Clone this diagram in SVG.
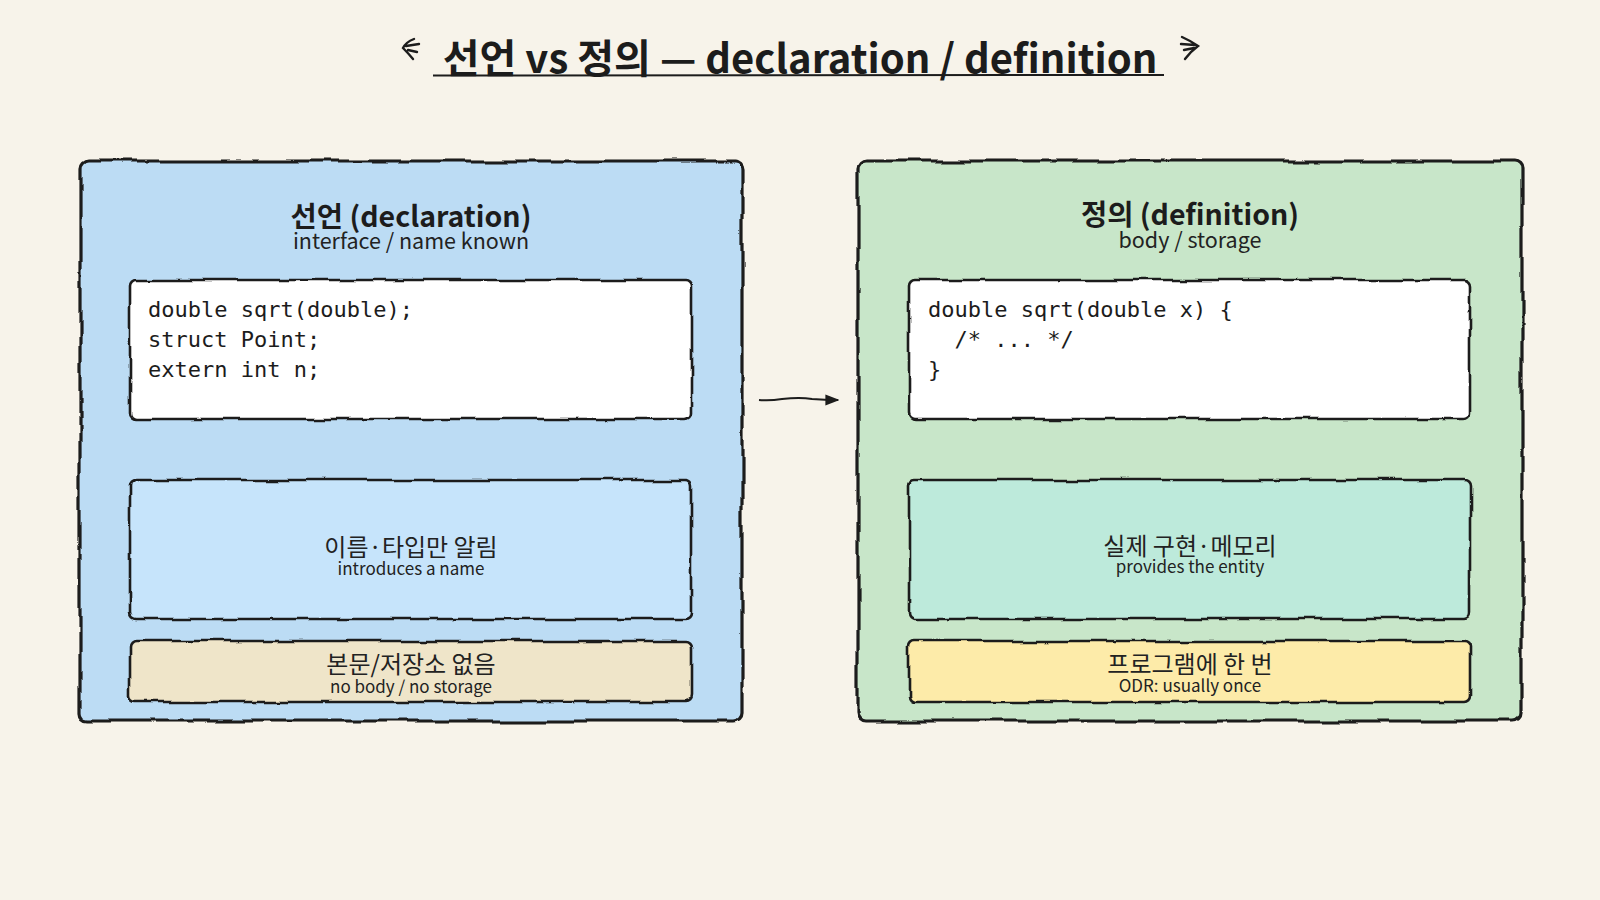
<svg xmlns="http://www.w3.org/2000/svg" width="1600" height="900" viewBox="0 0 1600 900">
<defs>
<style>
.bg{fill:#f7f3ea}
.outer{stroke:#1c1c1c;stroke-width:3.2;filter:url(#rough)}
.inner{stroke:#1c1c1c;stroke-width:2.6;filter:url(#rough2)}
.ttl{font-family:"Noto Sans CJK KR","Noto Sans",sans-serif;font-weight:700;fill:#1c1c1c}
.hd{font-family:"Noto Sans CJK KR","Noto Sans",sans-serif;font-weight:700;font-size:28.5px;fill:#1c1c1c;text-anchor:middle}
.sub{font-family:"Noto Sans CJK KR","Noto Sans",sans-serif;font-size:21.5px;fill:#222;text-anchor:middle}
.ko{font-family:"Noto Sans CJK KR","Noto Sans",sans-serif;font-size:24px;fill:#222;text-anchor:middle}
.en{font-family:"Noto Sans CJK KR","Noto Sans",sans-serif;font-size:17px;fill:#222;text-anchor:middle}
.code{font-family:"DejaVu Sans Mono","Liberation Mono",monospace;font-size:22px;fill:#1c1c1c;white-space:pre}
.conn{fill:none;stroke:#1c1c1c;stroke-width:2}
.deco{fill:none;stroke:#1c1c1c;stroke-width:2.4;stroke-linecap:round}
</style>
<filter id="rough" x="-3%" y="-3%" width="106%" height="106%">
<feTurbulence type="fractalNoise" baseFrequency="0.02" numOctaves="3" seed="4" result="n"/>
<feDisplacementMap in="SourceGraphic" in2="n" scale="7" xChannelSelector="R" yChannelSelector="G"/>
</filter>
<filter id="rough2" x="-3%" y="-6%" width="106%" height="112%">
<feTurbulence type="fractalNoise" baseFrequency="0.024" numOctaves="3" seed="9" result="n"/>
<feDisplacementMap in="SourceGraphic" in2="n" scale="6" xChannelSelector="R" yChannelSelector="G"/>
</filter>
<marker id="ah" viewBox="0 0 10 10" refX="9" refY="5" markerWidth="7" markerHeight="7" orient="auto" markerUnits="strokeWidth">
<path d="M0,1 L10,5 L0,9 Z" fill="#1c1c1c"/>
</marker>
</defs>
<rect class="bg" x="0" y="0" width="1600" height="900"/>

<g id="title">
<text class="ttl" x="800" y="73" font-size="40" text-anchor="middle">선언 vs 정의 — declaration / definition</text>
<path d="M433,75.5 L1164,75" fill="none" stroke="#1c1c1c" stroke-width="2"/>
<path class="deco" d="M414,39 Q406,42 403,48 Q408,53 413,59 M406,46 L419,44 M408,50 L417,52"/>
<path class="deco" d="M1182,37 Q1191,41 1198,46 Q1190,52 1185,59 M1181,44 L1195,45 M1184,50 L1194,48"/>
</g>

<g id="declaration">
<rect class="outer" x="80" y="161" width="662" height="560" rx="8" fill="#bcdcf4"/>
<text class="hd" x="411" y="227">선언 (declaration)</text>
<text class="sub" x="411" y="249">interface / name known</text>
</g>

<g id="decl-code">
<rect class="inner" x="130" y="280" width="562" height="139" rx="6" fill="#ffffff"/>
<text class="code" x="148" y="317">double sqrt(double);</text>
<text class="code" x="148" y="347">struct Point;</text>
<text class="code" x="148" y="377">extern int n;</text>
</g>

<g id="decl-name">
<rect class="inner" x="130" y="480" width="562" height="139" rx="6" fill="#c6e4fb"/>
<text class="ko" x="411" y="556">이름·타입만 알림</text>
<text class="en" x="411" y="575">introduces a name</text>
</g>

<g id="decl-nobody">
<rect class="inner" x="130" y="641" width="562" height="61" rx="6" fill="#efe5c9"/>
<text class="ko" x="411" y="673">본문/저장소 없음</text>
<text class="en" x="411" y="693">no body / no storage</text>
</g>

<g id="definition">
<rect class="outer" x="858" y="161" width="664" height="560" rx="8" fill="#c8e6c9"/>
<text class="hd" x="1190" y="225">정의 (definition)</text>
<text class="sub" x="1190" y="248">body / storage</text>
</g>

<g id="def-code">
<rect class="inner" x="909" y="280" width="561" height="139" rx="6" fill="#ffffff"/>
<text class="code" x="928" y="317">double sqrt(double x) {</text>
<text class="code" x="928" y="347">  /* ... */</text>
<text class="code" x="928" y="377">}</text>
</g>

<g id="def-entity">
<rect class="inner" x="909" y="480" width="561" height="139" rx="6" fill="#bdeadb"/>
<text class="ko" x="1190" y="555">실제 구현·메모리</text>
<text class="en" x="1190" y="573">provides the entity</text>
</g>

<g id="def-odr">
<rect class="inner" x="909" y="641" width="561" height="61" rx="6" fill="#fdeba9"/>
<text class="ko" x="1190" y="673">프로그램에 한 번</text>
<text class="en" x="1190" y="692">ODR: usually once</text>
</g>

<g id="connectors">
<path class="conn" d="M759,400 Q770,401 782,399 Q800,397 812,399 Q825,400 838,400" marker-end="url(#ah)"/>
</g>
</svg>
